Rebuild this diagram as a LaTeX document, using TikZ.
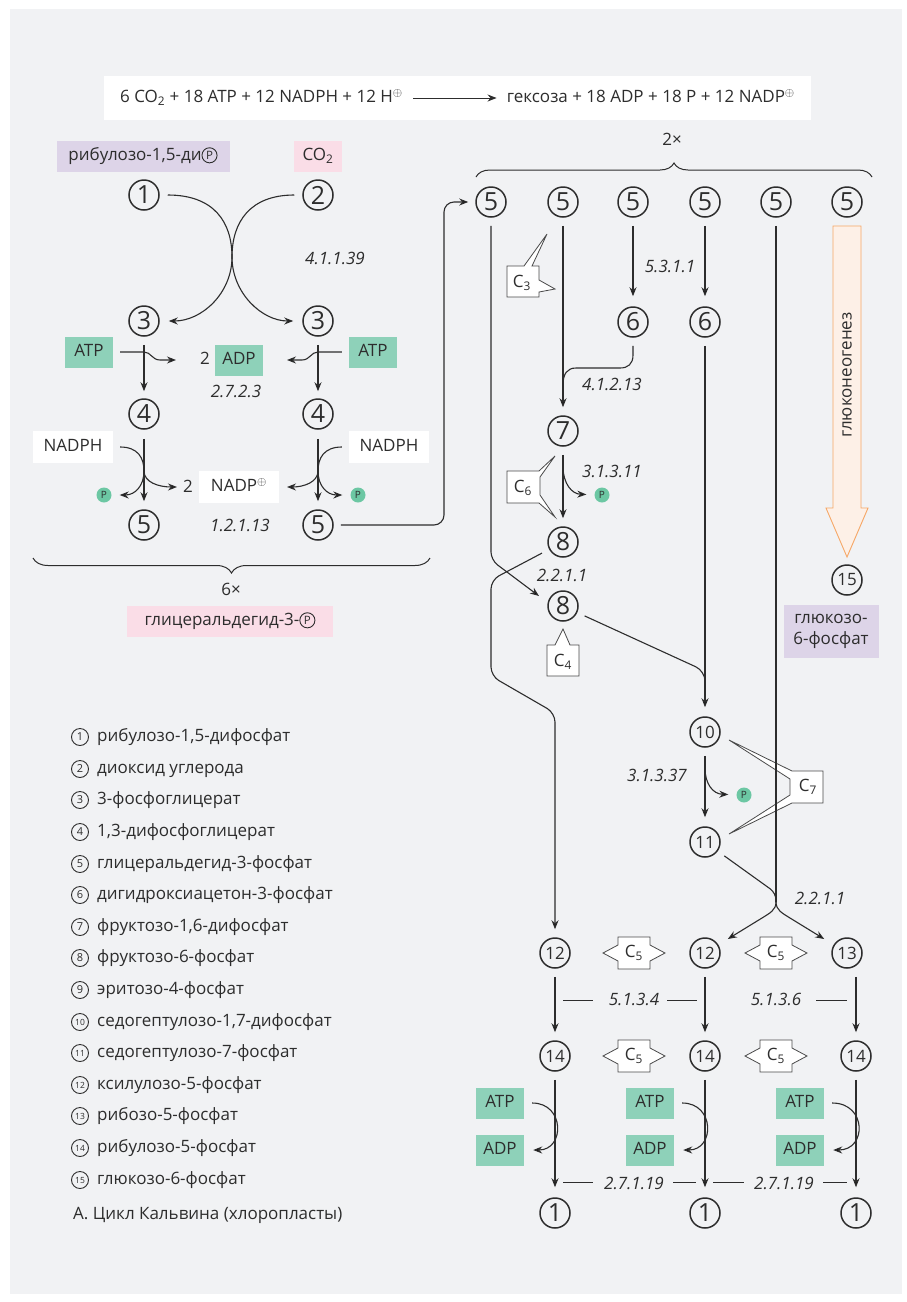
\documentclass[tikz,border=0pt]{standalone}
\usepackage{fontspec}
\setmainfont{Open Sans}
\usetikzlibrary{arrows.meta,calc,decorations.pathreplacing}

\definecolor{panel}{HTML}{F1F2F4}
\definecolor{ink}{HTML}{2D2D2D}
\definecolor{atpgreen}{HTML}{8ED1B9}
\definecolor{pgreen}{HTML}{6CC7A3}
\definecolor{rosa}{HTML}{FADDE7}
\definecolor{lila}{HTML}{DDD4E8}
\definecolor{glukline}{HTML}{F6A766}
\definecolor{glukfill}{HTML}{FDF0E7}
\definecolor{boxline}{HTML}{4A4A4A}

% circled P used inside labels; every inherited node setting is reset
\newcommand\circp{\tikz[baseline={([yshift=-1.2pt]cpx.base)}]\node[circle,draw=ink,fill=none,line width=0.9pt,
  minimum size=0pt,minimum width=0pt,minimum height=0pt,inner sep=1.6pt,
  text height=8pt,text depth=0pt,text=ink,font=\fontsize{11.5}{11.5}\selectfont] (cpx) {P};}

\tikzset{
  mol/.style={circle,draw=ink,line width=1.5pt,minimum size=30pt,inner sep=0pt,text=ink,font=\fontsize{25}{25}\selectfont},
  molb/.style={mol,font=\fontsize{17}{17}\selectfont},
  txt/.style={text=ink,font=\fontsize{17}{20}\selectfont,inner sep=0pt,text height=13pt,text depth=4pt},
  ec/.style={txt,font=\fontsize{17}{20}\selectfont\itshape},
  tag/.style={txt,minimum height=31pt},
  greentag/.style={tag,fill=atpgreen,minimum width=48pt},
  whitetag/.style={tag,fill=white,minimum width=80pt,minimum height=32pt},
  pdot/.style={circle,fill=pgreen,minimum size=15pt,inner sep=0pt,text=ink,font=\fontsize{10}{10}\selectfont},
  arr/.style={draw=ink,line width=1.1pt,-{Stealth[length=9pt,width=7pt]}},
  ln/.style={draw=ink,line width=1.1pt},
  thinln/.style={draw=ink,line width=0.8pt},
  cbox/.style={draw=boxline,fill=white,line width=0.8pt,line join=miter},
  legnum/.style={circle,draw=ink,line width=0.9pt,minimum size=17pt,inner sep=0pt,text=ink,font=\fontsize{11}{11}\selectfont},
  legnumb/.style={legnum,font=\fontsize{8.5}{8.5}\selectfont},
  legtxt/.style={txt,anchor=west},
  brc/.style={draw=ink,line width=1pt,decorate,decoration={brace,amplitude=14pt}},
}

\begin{document}
\begin{tikzpicture}[x=1pt,y=-1pt]
\useasboundingbox (0,0) rectangle (907,1302);
\fill[white] (0,0) rectangle (907,1302);
\fill[panel] (10,9) rectangle (902,1294);

% overall equation
\node[fill=white,minimum width=707pt,minimum height=44pt,inner sep=0pt] (eqbox) at (457,98) {};
\node[txt,anchor=west] (eqL) at (120,98) {6 CO\textsubscript{2} + 18 ATP + 12 NADPH + 12 H$^{\oplus}$};
\node[txt,anchor=east] (eqR) at (795,98) {гексоза + 18 ADP + 18 P + 12 NADP$^{\oplus}$};
\draw[arr,line width=1pt,shorten <=10pt,shorten >=10pt] (eqL.east) -- (eqR.west);

% ---------- carboxylation and reduction (left) ----------
\node[tag,fill=lila,minimum width=173pt] (lab1) at (143,156) {рибулозо-1,5-ди\circp};
\node[tag,fill=rosa,minimum width=48pt] (labco2) at (318,156) {CO\textsubscript{2}};
\node[mol] (a1) at (144,195) {1};
\node[mol] (a2) at (318,195) {2};
\node[mol] (a3) at (144,321) {3};
\node[mol] (b3) at (318,321) {3};
\node[ec] (ecA) at (335,260) {4.1.1.39};
\draw[arr,shorten <=8pt,shorten >=9pt] (a1.east) .. controls (214,195) and (232,222) .. (232,257) .. controls (232,293) and (262,321) .. (b3.west);
\draw[arr,shorten <=8pt,shorten >=9pt] (a2.west) .. controls (250,195) and (232,222) .. (232,257) .. controls (232,293) and (202,321) .. (a3.east);

\node[greentag] (atpA) at (89,352) {ATP};
\node[greentag] (atpB) at (373,352) {ATP};
\node[txt] (twoA) at (205,360) {2};
\node[greentag] (adpA) at (239,360) {ADP};
\node[ec] (ecB) at (236,393) {2.7.2.3};
\node[mol] (a4) at (144,414) {4};
\node[mol] (b4) at (318,414) {4};
\coordinate (adpInL) at (176,360);
\coordinate (adpInR) at (287,360);
\draw[arr,shorten <=8pt,shorten >=7pt] (a3) -- (a4);
\draw[arr,shorten <=8pt,shorten >=7pt] (b3) -- (b4);
\draw[arr,shorten <=7pt] (atpA.east) -- (144,352) .. controls (151,352) and (152,360) .. (160,360) -- (adpInL);
\draw[arr,shorten <=7pt] (atpB.west) -- (318,352) .. controls (311,352) and (310,360) .. (302,360) -- (adpInR);

\node[whitetag] (nadphA) at (73,447) {NADPH};
\node[whitetag] (nadphB) at (389,447) {NADPH};
\node[txt] (twoB) at (188,488) {2};
\node[whitetag] (nadpC) at (239,487) {NADP$^{\oplus}$};
\node[pdot] (pA) at (104,495) {P};
\node[pdot] (pB) at (358,495) {P};
\node[mol] (a5) at (144,525) {5};
\node[mol] (b5) at (318,525) {5};
\node[ec] (ecC) at (240,527) {1.2.1.13};
\coordinate (nadpInL) at (177,487);
\coordinate (nadpInR) at (287,487);
\coordinate (brA) at (144,471);
\coordinate (brB) at (318,471);
\draw[arr,shorten <=9pt,shorten >=8pt] (a4) -- (a5);
\draw[arr,shorten <=9pt,shorten >=8pt] (b4) -- (b5);
\draw[arr,shorten <=7pt] (nadphA.east) .. controls (138,447) and (144,458) .. (brA) .. controls (144,482) and (158,487) .. (nadpInL);
\draw[arr,shorten >=8pt] (brA) .. controls (144,486) and (135,495) .. (pA);
\draw[arr,shorten <=7pt] (nadphB.west) .. controls (324,447) and (318,458) .. (brB) .. controls (318,482) and (304,487) .. (nadpInR);
\draw[arr,shorten >=8pt] (brB) .. controls (318,486) and (327,495) .. (pB);

\draw[brc,decoration={brace,amplitude=15pt}] (430,558) -- (33,558);
\node[txt] (sixx) at (231,591) {6×};
\node[tag,fill=rosa,minimum width=206pt] (lab3) at (230,621) {глицеральдегид-3-\circp};

% ---------- regeneration (right) ----------
\node[txt] (twox) at (672,141) {2×};
\draw[brc] (476,177) -- (872,177);
\foreach \n/\x in {t1/491,t2/563,t3/633,t4/705,t5/776,t6/847}
  \node[mol] (\n) at (\x,202) {5};

\draw[arr,rounded corners=10pt,shorten <=7pt,shorten >=7pt] (b5.east) -- (444,525) -- (444,202) -- (t1.west);

\node[mol] (c6a) at (633,322) {6};
\node[mol] (c6b) at (705,322) {6};
\node[ec] (ecD) at (670,268) {5.3.1.1};
\draw[arr,shorten <=8pt,shorten >=10pt] (t3) -- (c6a);
\draw[arr,shorten <=8pt,shorten >=10pt] (t4) -- (c6b);

% C3 unit
\draw[cbox] (507,266) -- (524,266) -- (547,234) -- (532,266) -- (539,266) -- (539,280) -- (555,289) -- (539,292) -- (539,297) -- (507,297) -- cycle;
\node[txt] (cthree) at (522,283) {C\textsubscript{3}};

\node[mol] (c7) at (563,431) {7};
\draw[arr,shorten <=8pt,shorten >=8pt] (t2) -- (c7);
\coordinate (j2) at (563,385);
\draw[ln,shorten <=8pt] (c6a) -- (633,355) .. controls (633,364) and (628,368) .. (620,368) -- (576,368) .. controls (567,368) and (563,374) .. (j2);
\node[ec] (ecE) at (612,386) {4.1.2.13};

% C6 unit
\draw[cbox] (507,471) -- (539,471) -- (555,456) -- (540,477) -- (540,495) -- (555,517) -- (539,503) -- (507,503) -- cycle;
\node[txt] (csix) at (523,488) {C\textsubscript{6}};

\node[mol] (c8a) at (563,542) {8};
\node[mol] (c8b) at (563,606) {8};
\draw[arr,shorten <=8pt,shorten >=8pt] (c7) -- (c8a);
\coordinate (br7) at (563,466);
\node[pdot] (pC) at (602,495) {P};
\draw[arr,shorten >=8pt] (br7) .. controls (563,484) and (572,494) .. (pC);
\node[ec] (ecF) at (612,473) {3.1.3.11};
\node[ec] (ecG) at (562,577) {2.2.1.1};

% C4 unit
\draw[cbox] (547,645) -- (555,645) -- (563,629) -- (570,645) -- (579,645) -- (579,676) -- (547,676) -- cycle;
\node[txt] (cfour) at (563,662) {C\textsubscript{4}};

\coordinate (c8bIn) at (539,596);
\draw[arr,rounded corners=8pt,shorten <=8pt] (t1) -- (491,560) -- (c8bIn);
\node[molb] (d12) at (555,953) {12};
\draw[arr,rounded corners=9pt,shorten <=8pt,shorten >=8pt] (c8a) -- (491,580) -- (491,676) -- (555,713) -- (d12);

\coordinate (j4) at (705,692);
\draw[ln,rounded corners=10pt,shorten <=8pt] (c8b) -- (705,671) -- (j4);

\node[molb] (c10) at (705,732) {10};
\node[molb] (c11) at (705,842) {11};
\draw[arr,shorten <=8pt,shorten >=9pt] (c6b) -- (c10);
\draw[arr,shorten <=8pt,shorten >=9pt] (c10) -- (c11);
\coordinate (br10) at (705,768);
\node[pdot] (pD) at (744,795) {P};
\draw[arr,shorten >=8pt] (br10) .. controls (705,784) and (713,794) .. (pD);
\node[ec] (ecH) at (657,777) {3.1.3.37};

% C7 unit
\draw[cbox] (792,771) -- (823,771) -- (823,803) -- (792,803) -- (729,834) -- (790,795) -- (790,779) -- (729,740) -- cycle;
\node[txt] (cseven) at (808,787) {C\textsubscript{7}};

\coordinate (j5) at (776,902);
\draw[ln,shorten <=8pt] (t5) -- (j5);
\draw[ln,rounded corners=7pt,shorten <=8pt] (c11) -- (776,893) -- (j5);
\node[molb] (e12) at (705,953) {12};
\node[molb] (e13) at (847,953) {13};
\draw[arr,shorten >=11pt] (j5) .. controls (776,910) and (770,913) .. (762,918) -- (e12);
\draw[arr,shorten >=11pt] (j5) .. controls (776,910) and (782,913) .. (790,918) -- (e13);
\node[ec] (ecI) at (820,900) {2.2.1.1};

% gluconeogenesis
\draw[draw=glukline,fill=glukfill,line width=0.9pt,line join=miter] (833,226) -- (861,226) -- (861,508) -- (868,508) -- (847,557) -- (826,508) -- (833,508) -- cycle;
\node[txt,rotate=90] (glukon) at (847,375) {глюконеогенез};
\node[molb] (c15) at (847,580) {15};
\node[fill=lila,text=ink,font=\fontsize{17}{21}\selectfont,align=center,minimum width=95pt,minimum height=53pt,inner sep=0pt] (lab15) at (831,631) {глюкозо-\\6-фосфат};

% C5 units
\foreach \nm/\x/\y in {a/634/953,b/776/953,c/634/1056,d/776/1056}{
  \draw[cbox] (\x-31,\y) -- (\x-16,\y-8) -- (\x-16,\y-16) -- (\x+16,\y-16) -- (\x+16,\y-8) -- (\x+31,\y) -- (\x+16,\y+8) -- (\x+16,\y+16) -- (\x-16,\y+16) -- (\x-16,\y+8) -- cycle;
  \node[txt] (cfive\nm) at (\x,\y) {C\textsubscript{5}};
}

\node[molb] (d14) at (555,1056) {14};
\node[molb] (e14) at (705,1056) {14};
\node[molb] (f14) at (856,1056) {14};
\node[mol] (d1) at (555,1213) {1};
\node[mol] (e1) at (705,1213) {1};
\node[mol] (f1) at (856,1213) {1};
\draw[arr,shorten <=8pt,shorten >=8pt] (d12) -- (d14);
\draw[arr,shorten <=8pt,shorten >=8pt] (e12) -- (e14);
\draw[arr,shorten <=8pt,shorten >=8pt] (e13.south -| f14) -- (f14);
\draw[arr,shorten <=8pt,shorten >=10pt] (d14) -- (d1);
\draw[arr,shorten <=8pt,shorten >=10pt] (e14) -- (e1);
\draw[arr,shorten <=8pt,shorten >=10pt] (f14) -- (f1);

\node[ec] (ecJ) at (634,1001) {5.1.3.4};
\draw[thinln] (563,1000) -- (593,1000);
\draw[thinln] (667,1000) -- (697,1000);
\node[ec] (ecK) at (776,1001) {5.1.3.6};
\draw[thinln] (816,1000) -- (847,1000);
\node[ec] (ecL) at (634,1185) {2.7.1.19};
\draw[thinln] (563,1182) -- (593,1182);
\draw[thinln] (673,1182) -- (696,1182);
\node[ec] (ecM) at (784,1185) {2.7.1.19};
\draw[thinln] (713,1182) -- (744,1182);
\draw[thinln] (823,1182) -- (847,1182);

\foreach \nm/\x/\c in {d/500/565,e/650/715,f/800/867}{
  \node[greentag] (atp\nm) at (\x,1103) {ATP};
  \node[greentag] (adp\nm) at (\x,1150) {ADP};
  \draw[arr,shorten <=8pt,shorten >=9pt] (atp\nm.east) .. controls (\c,1103) and (\c,1150) .. (adp\nm.east);
}

% ---------- legend ----------
\foreach \i/\y in {1/737,2/769,3/800,4/832,5/864,6/895,7/927,8/958,9/990}
  \node[legnum] (lgn\i) at (80,\y) {\i};
\foreach \i/\y in {10/1022,11/1053,12/1085,13/1116,14/1148,15/1180}
  \node[legnumb] (lgn\i) at (80,\y) {\i};
\node[legtxt] (lgt1) at (97,737) {рибулозо-1,5-дифосфат};
\node[legtxt] (lgt2) at (97,769) {диоксид углерода};
\node[legtxt] (lgt3) at (97,800) {3-фосфоглицерат};
\node[legtxt] (lgt4) at (97,832) {1,3-дифосфоглицерат};
\node[legtxt] (lgt5) at (97,864) {глицеральдегид-3-фосфат};
\node[legtxt] (lgt6) at (97,895) {дигидроксиацетон-3-фосфат};
\node[legtxt] (lgt7) at (97,927) {фруктозо-1,6-дифосфат};
\node[legtxt] (lgt8) at (97,958) {фруктозо-6-фосфат};
\node[legtxt] (lgt9) at (97,990) {эритозо-4-фосфат};
\node[legtxt] (lgt10) at (97,1022) {седогептулозо-1,7-дифосфат};
\node[legtxt] (lgt11) at (97,1053) {седогептулозо-7-фосфат};
\node[legtxt] (lgt12) at (97,1085) {ксилулозо-5-фосфат};
\node[legtxt] (lgt13) at (97,1116) {рибозо-5-фосфат};
\node[legtxt] (lgt14) at (97,1148) {рибулозо-5-фосфат};
\node[legtxt] (lgt15) at (97,1180) {глюкозо-6-фосфат};
\node[legtxt] (caption) at (73,1215) {А. Цикл Кальвина (хлоропласты)};
\end{tikzpicture}
\end{document}
